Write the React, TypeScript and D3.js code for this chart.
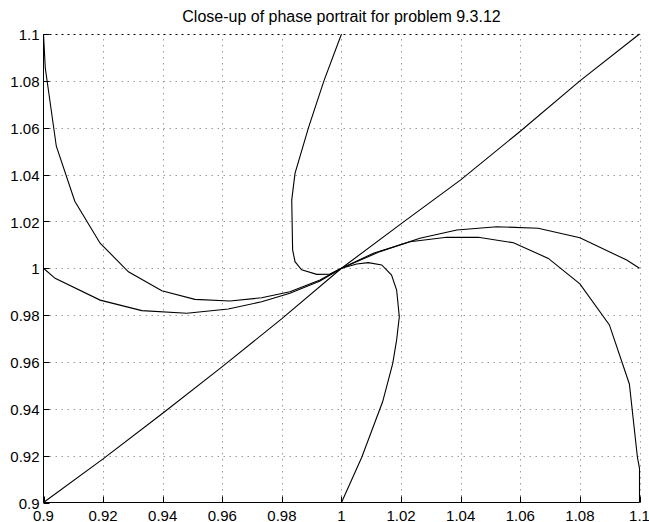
import React from 'react';
import * as d3 from 'd3';

type Pt = [number, number];

// trajectories (x, y)
const diagonal: Pt[] = [
  [0.9, 0.9], [0.92, 0.9186], [0.94, 0.9381], [0.96, 0.958], [0.98, 0.9785],
  [1.0, 1.0], [1.0205, 1.0195], [1.04, 1.0377], [1.06, 1.0585],
  [1.08, 1.08], [1.1, 1.1],
];

const upperLeft: Pt[] = [
  [0.9, 1.1], [0.9006, 1.0855], [0.9043, 1.0521], [0.9105, 1.0286], [0.919, 1.0107],
  [0.9285, 0.9985], [0.9397, 0.9904], [0.9508, 0.9867], [0.9626, 0.986], [0.9732, 0.9874],
  [0.9827, 0.99], [0.9928, 0.995], [1.0, 1.0],
];

const lowerLeft: Pt[] = [
  [0.9, 1.0], [0.9039, 0.9957], [0.919, 0.9864], [0.933, 0.9819], [0.9481, 0.9808],
  [0.962, 0.9826], [0.9732, 0.9857], [0.9827, 0.9893], [0.9928, 0.9946], [1.0, 1.0],
];

const topCurve: Pt[] = [
  [1.0, 1.1], [0.9941, 1.08], [0.9889, 1.0599], [0.9844, 1.0405], [0.9833, 1.0291],
  [0.9836, 1.0078], [0.9844, 1.0028], [0.9866, 0.9993], [0.9917, 0.9974], [0.9961, 0.9975],
  [1.0, 1.0],
];

const bottomCurve: Pt[] = [
  [1.0, 0.9], [1.0068, 0.9193], [1.0138, 0.943], [1.0172, 0.9594], [1.0185, 0.9694],
  [1.0194, 0.9793], [1.0185, 0.9907], [1.0168, 0.9971], [1.0135, 1.0014], [1.009, 1.0024],
  [1.0051, 1.0018], [1.0, 1.0],
];

const upperRight: Pt[] = [
  [1.1, 1.0], [1.0957, 1.0035], [1.08, 1.013], [1.066, 1.0171], [1.0521, 1.0177],
  [1.0387, 1.0163], [1.0263, 1.0128], [1.0129, 1.0071], [1.0, 1.0],
];

const lowerRight: Pt[] = [
  [1.1, 0.9], [1.1, 0.9146], [1.0993, 0.9193], [1.0966, 0.9506], [1.0899, 0.9758],
  [1.08, 0.9933], [1.0694, 1.0042], [1.0577, 1.0109], [1.0459, 1.0132], [1.0353, 1.0132],
  [1.023, 1.0113], [1.0107, 1.0064], [1.0, 1.0],
];

const trajectories = [diagonal, upperLeft, lowerLeft, topCurve, bottomCurve, upperRight, lowerRight];

const xTickLabels = ['0.9', '0.92', '0.94', '0.96', '0.98', '1', '1.02', '1.04', '1.06', '1.08', '1.1'];
const yTickLabels = ['0.9', '0.92', '0.94', '0.96', '0.98', '1', '1.02', '1.04', '1.06', '1.08', '1.1'];
const title = 'Close-up of phase portrait for problem 9.3.12';

const W = 649;
const H = 522;
const left = 43.5;
const right = 639.5;
const top = 34;
const bottom = 502.5;
const font = '"Liberation Sans", Arial, Helvetica, sans-serif';

export default function App() {
  const x = d3.scaleLinear().domain([0.9, 1.1]).range([left, right]);
  const y = d3.scaleLinear().domain([0.9, 1.1]).range([bottom, top]);
  const line = d3.line<Pt>().x(d => x(d[0])).y(d => y(d[1]));

  const xTicks = xTickLabels.map(Number);
  const yTicks = yTickLabels.map(Number);

  return (
    <svg
      width={W}
      height={H}
      style={{ position: 'absolute', left: 0, top: 0, background: '#fff' }}
      fontFamily={font}
    >
      <rect x={0} y={0} width={W} height={H} fill="#fff" />

      {/* grid */}
      <g stroke="#9a9a9a" strokeWidth={1} strokeDasharray="1.5,4.5">
        {xTicks.slice(1).map((t, i) => (
          <line key={'gx' + i} x1={Math.round(x(t)) + 0.5} x2={Math.round(x(t)) + 0.5} y1={bottom} y2={top} />
        ))}
        {yTicks.slice(1, -1).map((t, i) => (
          <line key={'gy' + i} x1={left} x2={right} y1={Math.round(y(t)) + 0.5} y2={Math.round(y(t)) + 0.5} />
        ))}
      </g>
      <line x1={left} x2={right} y1={top + 0.5} y2={top + 0.5} stroke="#000" strokeDasharray="2,4" />

      {/* trajectories */}
      <g fill="none" stroke="#000" strokeWidth={1.1}>
        {trajectories.map((tr, i) => (
          <path key={'tr' + i} d={line(tr) || ''} />
        ))}
      </g>

      {/* axes */}
      <line x1={left} x2={left} y1={top} y2={bottom} stroke="#000" />
      <line x1={left} x2={right} y1={bottom} y2={bottom} stroke="#000" />
      <g stroke="#000">
        {xTicks.map((t, i) => (
          <line key={'tx' + i} x1={Math.round(x(t)) + 0.5} x2={Math.round(x(t)) + 0.5} y1={bottom} y2={bottom - 6} />
        ))}
        {yTicks.map((t, i) => (
          <line key={'ty' + i} x1={left} x2={left + 6} y1={Math.round(y(t)) + 0.5} y2={Math.round(y(t)) + 0.5} />
        ))}
      </g>

      {/* tick labels */}
      <g fontSize={15} fill="#000">
        {xTicks.map((t, i) => (
          <text key={'lx' + i} x={x(t)} y={520.5} textAnchor="middle">{xTickLabels[i]}</text>
        ))}
        {yTicks.map((t, i) => (
          <text key={'ly' + i} x={39.5} y={y(t) + 6.2} textAnchor="end">{yTickLabels[i]}</text>
        ))}
      </g>

      <text x={(left + right) / 2} y={22} textAnchor="middle" fontSize={16} fill="#000">{title}</text>
    </svg>
  );
}
